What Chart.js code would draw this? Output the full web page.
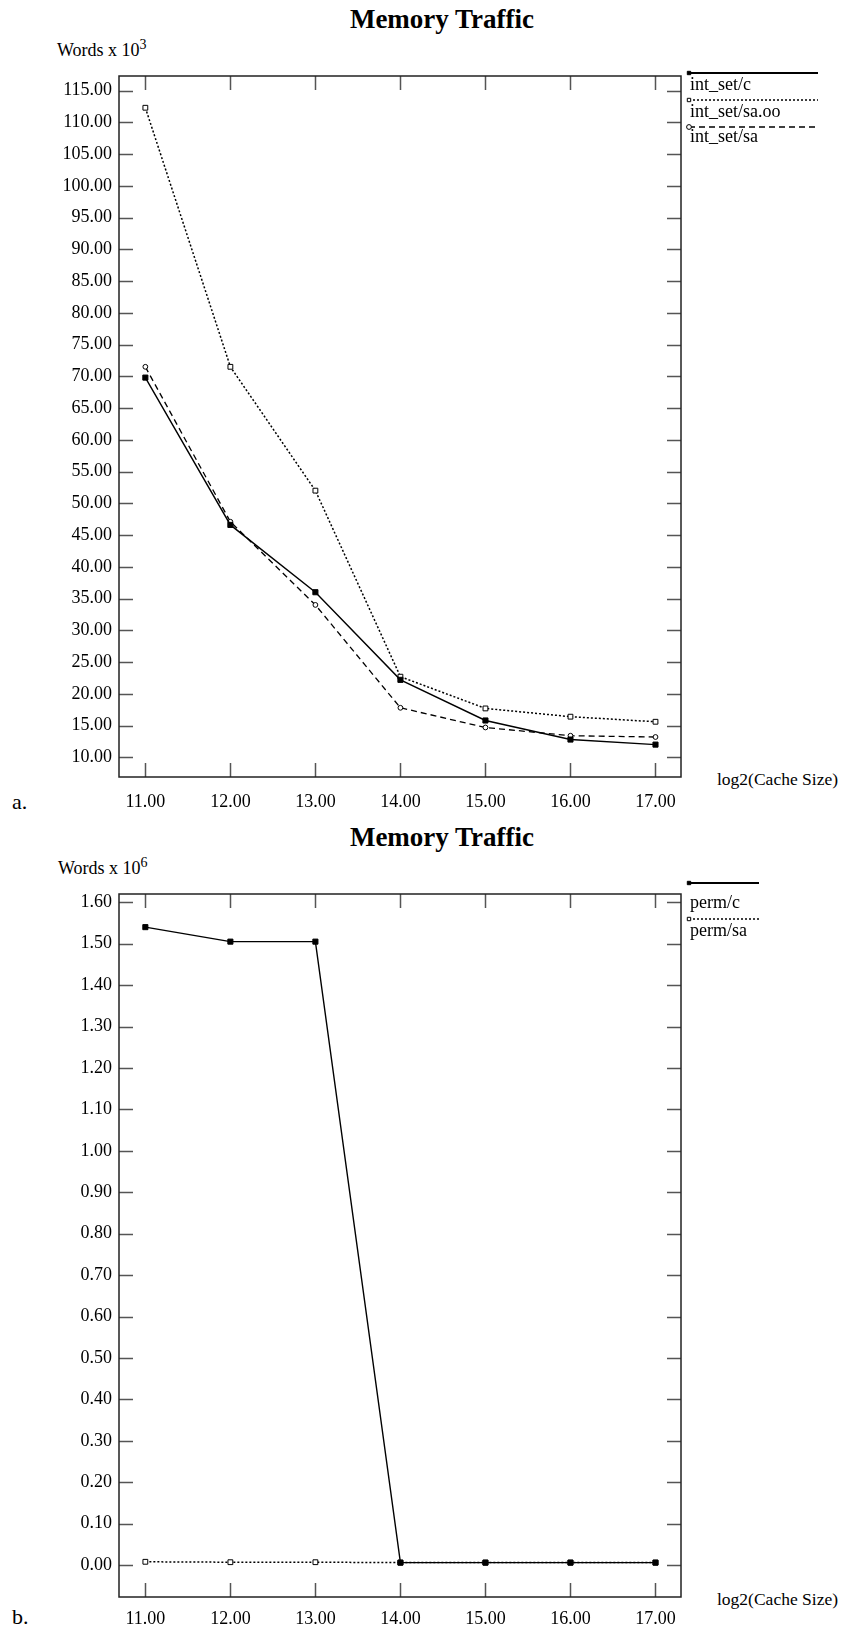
<!DOCTYPE html>
<html>
<head>
<meta charset="utf-8">
<script src="https://cdn.jsdelivr.net/npm/chart.js@4.4.1/dist/chart.umd.min.js"></script>
<style>
  body { margin: 0; background: #fff; width: 844px; height: 1632px; position: relative; overflow: hidden;
         font-family: 'Liberation Serif', 'Times New Roman', serif; color: #000; }
  canvas { position: absolute; left: 0; }
  .txt { position: absolute; white-space: nowrap; line-height: 1; }
  .title { left: 0; width: 884px; text-align: center; font-weight: bold; font-size: 27px; }
  .unit { font-size: 18px; }
  .unit sup { font-size: 14px; vertical-align: 7px; line-height: 0; }
  .xname { font-size: 17.5px; left: 717px; }
  .tag { font-size: 22px; }
</style>
</head>
<body>
<div class="txt title" style="top:6px">Memory Traffic</div>
<div class="txt unit" style="left:57px; top:41px">Words x 10<sup>3</sup></div>
<div class="txt xname" style="top:771px">log2(Cache Size)</div>
<div class="txt tag" style="left:12px; top:791px">a.</div>
<canvas id="chartA" width="844" height="816" style="top:0"></canvas>

<div class="txt title" style="top:824px">Memory Traffic</div>
<div class="txt unit" style="left:58px; top:859px">Words x 10<sup>6</sup></div>
<div class="txt xname" style="top:1591px">log2(Cache Size)</div>
<div class="txt tag" style="left:12px; top:1606px">b.</div>
<canvas id="chartB" width="844" height="816" style="top:816px"></canvas>

<script>
// log2 of cache size, same for both panels
const cacheSizes = [11, 12, 13, 14, 15, 16, 17];

// panel a: words x 10^3
const intSetC = [69.8, 46.6, 36.0, 22.2, 15.8, 12.8, 12.0];
const intSetSaOo = [112.3, 71.5, 52.0, 22.7, 17.7, 16.4, 15.6];
const intSetSa = [71.5, 47.1, 34.0, 17.8, 14.7, 13.4, 13.2];

// panel b: words x 10^6
const permC = [1.54, 1.505, 1.505, 0.006, 0.006, 0.006, 0.006];
const permSa = [0.008, 0.007, 0.007, 0.006, 0.006, 0.006, 0.006];

const FONT = "'Liberation Serif', 'Times New Roman', serif";

function toPoints(values) {
  return cacheSizes.map((c, i) => ({ x: c, y: values[i] }));
}

// line styles used by the plots
const STYLES = {
  solid: { borderDash: [], borderWidth: 1.4, pointStyle: 'rect', pointRadius: 3.6, fill: '#000' },
  dotted: { borderDash: [2, 2], borderWidth: 1.5, pointStyle: 'rect', pointRadius: 3.4, fill: '#fff' },
  dashed: { borderDash: [6, 4], borderWidth: 1.3, pointStyle: 'circle', pointRadius: 2.4, fill: '#fff' }
};

function makeDataset(label, values, styleName) {
  const s = STYLES[styleName];
  return {
    label: label,
    data: toPoints(values),
    borderColor: '#000',
    borderWidth: s.borderWidth,
    borderDash: s.borderDash,
    pointStyle: s.pointStyle,
    pointRadius: s.pointRadius,
    pointBorderWidth: 1,
    pointBorderColor: '#000',
    pointBackgroundColor: s.fill,
    tension: 0,
    styleName: styleName
  };
}

// frame round the plot with tick marks pointing inwards on all four sides
const frameTicks = {
  id: 'frameTicks',
  beforeDatasetsDraw(chart) {
    const { ctx, chartArea: a, scales: { x, y } } = chart;
    ctx.save();
    ctx.strokeStyle = '#555';
    ctx.lineWidth = 1.5;
    ctx.beginPath();
    x.ticks.forEach(t => {
      const px = Math.round(x.getPixelForValue(t.value)) + 0.5;
      ctx.moveTo(px, a.top); ctx.lineTo(px, a.top + 14);
      ctx.moveTo(px, a.bottom); ctx.lineTo(px, a.bottom - 14);
    });
    y.ticks.forEach(t => {
      const py = Math.round(y.getPixelForValue(t.value)) + 0.5;
      ctx.moveTo(a.left, py); ctx.lineTo(a.left + 14, py);
      ctx.moveTo(a.right, py); ctx.lineTo(a.right - 14, py);
    });
    ctx.stroke();
    ctx.strokeStyle = '#222';
    ctx.lineWidth = 1.5;
    ctx.strokeRect(a.left, a.top, a.width, a.height);
    ctx.restore();
  }
};

// legend to the right of the frame: a line with its marker, name underneath
const sideLegend = {
  id: 'sideLegend',
  afterDraw(chart, args, opts) {
    const ctx = chart.ctx;
    ctx.save();
    chart.data.datasets.forEach((ds, i) => {
      const s = STYLES[ds.styleName];
      const ly = opts.lineY[i];
      ctx.strokeStyle = '#000';
      ctx.lineWidth = ds.styleName === 'solid' ? 2 : 1.4;
      ctx.setLineDash(s.borderDash);
      ctx.beginPath();
      ctx.moveTo(opts.x, ly);
      ctx.lineTo(opts.lineEnd, ly);
      ctx.stroke();
      ctx.setLineDash([]);
      ctx.fillStyle = s.fill;
      ctx.lineWidth = 1;
      Chart.helpers.drawPoint(ctx, { pointStyle: s.pointStyle, radius: 2.4, borderWidth: 1 }, opts.x, ly);
      ctx.fillStyle = '#000';
      ctx.font = '18px ' + FONT;
      ctx.textBaseline = 'middle';
      ctx.textAlign = 'left';
      ctx.fillText(ds.label, opts.x + 1, opts.textY[i]);
    });
    ctx.restore();
  }
};

function fmt(v) {
  const n = Math.abs(v) < 1e-9 ? 0 : v;
  return n.toFixed(2);
}

function makeChart(canvasId, datasets, yMin, yMax, yStep, top, xHeight, xPad, legendOpts) {
  return new Chart(document.getElementById(canvasId), {
    type: 'line',
    data: { datasets: datasets },
    options: {
      responsive: false,
      animation: false,
      devicePixelRatio: 1,
      layout: { padding: { left: 0, top: top, right: 163, bottom: 0 } },
      plugins: {
        legend: { display: false },
        tooltip: { enabled: false },
        sideLegend: legendOpts
      },
      scales: {
        x: {
          type: 'linear',
          min: 10.69,
          max: 17.3,
          grid: { display: false, drawTicks: false },
          border: { display: false },
          ticks: {
            stepSize: 1, includeBounds: false, autoSkip: false, maxRotation: 0,
            padding: xPad, color: '#000', font: { family: FONT, size: 18 },
            callback: v => fmt(v)
          },
          afterFit: s => { s.height = xHeight; }
        },
        y: {
          min: yMin,
          max: yMax,
          grid: { display: false, drawTicks: false },
          border: { display: false },
          ticks: {
            stepSize: yStep, includeBounds: false, autoSkip: false,
            padding: 7, color: '#000', font: { family: FONT, size: 18 },
            callback: v => fmt(v)
          },
          afterFit: s => { s.width = 119; }
        }
      }
    },
    plugins: [frameTicks, sideLegend]
  });
}

makeChart('chartA', [
  makeDataset('int_set/c', intSetC, 'solid'),
  makeDataset('int_set/sa.oo', intSetSaOo, 'dotted'),
  makeDataset('int_set/sa', intSetSa, 'dashed')
], 6.9, 117.3, 5, 76, 39, 14, { x: 689, lineEnd: 818, lineY: [73, 100, 127], textY: [85, 112, 137] });

makeChart('chartB', [
  makeDataset('perm/c', permC, 'solid'),
  makeDataset('perm/sa', permSa, 'dotted')
], -0.077, 1.62, 0.1, 78, 35, 11, { x: 689, lineEnd: 759, lineY: [67, 103], textY: [87, 115] });
</script>
</body>
</html>
